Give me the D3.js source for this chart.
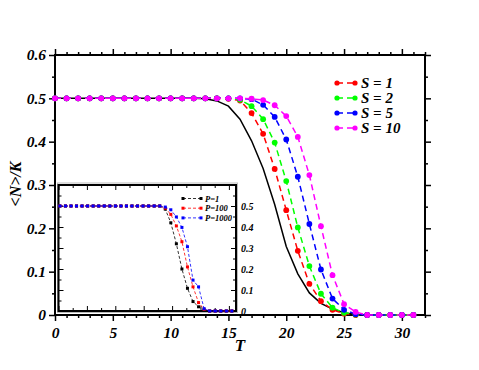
<!DOCTYPE html>
<html>
<head>
<meta charset="utf-8">
<script src="https://cdn.jsdelivr.net/npm/d3@7"></script>
<style>
  body { margin: 0; background: #fff; }
  svg text { font-family: "Liberation Serif", "Times New Roman", serif; font-weight: bold; font-style: italic; }
  .axis path, .axis line { stroke: #000; }
</style>
</head>
<body>
<div id="chart"></div>
<script>
// main plot data: T = 0..31
var T = [0,1,2,3,4,5,6,7,8,9,10,11,12,13,14,15,16,17,18,19,20,21,22,23,24,25,26,27,28,29,30,31];
var curveBlack = [0.5,0.5,0.5,0.5,0.5,0.5,0.5,0.5,0.5,0.5,0.5,0.5,0.5,0.499,0.494,0.482,0.452,0.402,0.338,0.255,0.158,0.095,0.051,0.027,0.014,0.005,0.001,0,0,0,0,0];
var s1  = [0.5,0.5,0.5,0.5,0.5,0.5,0.5,0.5,0.5,0.5,0.5,0.5,0.5,0.5,0.5,0.499,0.495,0.466,0.418,0.337,0.242,0.148,0.072,0.032,0.012,0.003,0,0,0,0,0,0];
var s2  = [0.5,0.5,0.5,0.5,0.5,0.5,0.5,0.5,0.5,0.5,0.5,0.5,0.5,0.5,0.5,0.5,0.497,0.482,0.452,0.398,0.309,0.202,0.113,0.049,0.017,0.005,0.001,0,0,0,0,0];
var s5  = [0.5,0.5,0.5,0.5,0.5,0.5,0.5,0.5,0.5,0.5,0.5,0.5,0.5,0.5,0.5,0.5,0.5,0.498,0.485,0.457,0.405,0.319,0.21,0.105,0.038,0.012,0.002,0,0,0,0,0];
var s10 = [0.5,0.5,0.5,0.5,0.5,0.5,0.5,0.5,0.5,0.5,0.5,0.5,0.5,0.5,0.5,0.5,0.5,0.499,0.496,0.484,0.459,0.411,0.323,0.205,0.092,0.025,0.007,0,0,0,0,0];
var seriesNames = ["S = 1", "S = 2", "S = 5", "S = 10"];
var seriesColors = ["#ff0000", "#00ff00", "#0000ff", "#ff00ff"];

var xTicks = [0,5,10,15,20,25,30];
var yTicks = [0,0.1,0.2,0.3,0.4,0.5,0.6];

// inset data: marker index 0..31
var insetIdx = [0,1,2,3,4,5,6,7,8,9,10,11,12,13,14,15,16,17,18,19,20,21,22,23,24,25,26,27,28,29,30,31];
var p1    = [0.5,0.5,0.5,0.5,0.5,0.5,0.5,0.5,0.5,0.5,0.5,0.5,0.5,0.5,0.5,0.5,0.5,0.5,0.5,0.485,0.42,0.32,0.2,0.108,0.045,0.02,0.004,0,0,0,0,0];
var p100  = [0.5,0.5,0.5,0.5,0.5,0.5,0.5,0.5,0.5,0.5,0.5,0.5,0.5,0.5,0.5,0.5,0.5,0.5,0.5,0.49,0.46,0.405,0.33,0.21,0.115,0.04,0.008,0,0,0,0,0];
var p1000 = [0.5,0.5,0.5,0.5,0.5,0.5,0.5,0.5,0.5,0.5,0.5,0.5,0.5,0.5,0.5,0.5,0.5,0.5,0.5,0.495,0.482,0.448,0.398,0.306,0.147,0.115,0.011,0,0,0,0,0];
var insetNames = ["P=1", "P=100", "P=1000"];
var insetColors = ["#000000", "#ff0000", "#0000ff"];
var insetYTicks = [0,0.1,0.2,0.3,0.4,0.5];

var svg = d3.select('#chart').append('svg').attr('width', 479).attr('height', 370);

var x = d3.scaleLinear().domain([0, 32]).range([55, 425]);
var y = d3.scaleLinear().domain([0, 0.6]).range([315, 55]);

var fmt = function(d) { return d === 0 ? "0" : d.toFixed(1); };

function drawAxis(gen, tr, size, vals, labels) {
  var g = svg.append("g").attr("class", "axis").attr("transform", tr)
    .call(gen.tickValues(vals).tickSize(size).tickSizeOuter(0));
  g.select(".domain").remove();
  g.selectAll("line").attr("stroke-width", 1.5);
  if (!labels) g.selectAll("text").remove();
  return g;
}

var xMinor = d3.range(0, 33, 1).filter(function(d) { return d % 5 !== 0; });
var yMinor = [0.05,0.15,0.25,0.35,0.45,0.55];

// minor ticks
drawAxis(d3.axisBottom(x), "translate(0,315)", 3, xMinor, false);
drawAxis(d3.axisTop(x), "translate(0,55)", 3, xMinor, false);
drawAxis(d3.axisLeft(y), "translate(55,0)", 3, yMinor, false);
drawAxis(d3.axisRight(y), "translate(425,0)", 3, yMinor, false);
// major ticks
var gx = drawAxis(d3.axisBottom(x).tickFormat(d3.format("d")), "translate(0,315)", 6, xTicks, true);
gx.selectAll("text").attr("font-size", 15.5).attr("dy", "0.9em").attr("fill", "#000");
drawAxis(d3.axisTop(x), "translate(0,55)", 6, xTicks, false);
var gy = drawAxis(d3.axisLeft(y).tickFormat(fmt), "translate(55,0)", 6, yTicks, true);
gy.selectAll("text").attr("font-size", 15.5).attr("fill", "#000");
drawAxis(d3.axisRight(y), "translate(425,0)", 6, yTicks, false);

// frame
svg.append("rect").attr("x", 55).attr("y", 55).attr("width", 370).attr("height", 260)
  .attr("fill", "none").attr("stroke", "#000").attr("stroke-width", 2);

// axis titles
svg.append("text").attr("x", 240).attr("y", 351).attr("text-anchor", "middle")
  .attr("font-size", 17).text("T");
svg.append("text").attr("transform", "translate(21,184) rotate(-90)").attr("text-anchor", "middle")
  .attr("font-size", 16).text("<N>/K");

// black solid curve
var line = d3.line().x(function(d, i) { return x(T[i]); }).y(function(d) { return y(d); });
svg.append("path").datum(curveBlack).attr("d", line)
  .attr("fill", "none").attr("stroke", "#000").attr("stroke-width", 1.5);

[s1, s2, s5, s10].forEach(function(s, k) {
  svg.append("path").datum(s).attr("d", line)
    .attr("fill", "none").attr("stroke", seriesColors[k]).attr("stroke-width", 1.5)
    .attr("stroke-dasharray", "6,4");
  svg.append("g").selectAll("circle").data(s).enter().append("circle")
    .attr("cx", function(d, i) { return x(T[i]); })
    .attr("cy", function(d) { return y(d); })
    .attr("r", 2.9).attr("fill", seriesColors[k]);
});

// legend
seriesNames.forEach(function(name, k) {
  var ly = 83 + k * 15;
  svg.append("line").attr("x1", 337).attr("x2", 355).attr("y1", ly).attr("y2", ly)
    .attr("stroke", seriesColors[k]).attr("stroke-width", 1.5).attr("stroke-dasharray", "6,4");
  [337, 355].forEach(function(cx) {
    svg.append("circle").attr("cx", cx).attr("cy", ly).attr("r", 2.6).attr("fill", seriesColors[k]);
  });
  svg.append("text").attr("x", 361).attr("y", ly + 5).attr("font-size", 15).text(name);
});

// ---- inset ----
var ix = d3.scaleLinear().domain([0, 12.5]).range([58.5, 236]);
var ixd = d3.scaleLinear().domain([-0.25, 31.75]).range([58.5, 236]);
var iy = d3.scaleLinear().domain([0, 0.6]).range([311, 185]);

svg.append("rect").attr("x", 57.5).attr("y", 183).attr("width", 180).attr("height", 129.5)
  .attr("fill", "#fff").attr("stroke", "#bbb").attr("stroke-width", 1);

function insetAxis(gen, tr, size, vals, labels) {
  var g = svg.append("g").attr("class", "axis").attr("transform", tr)
    .call(gen.tickValues(vals).tickSize(size).tickSizeOuter(0));
  g.select(".domain").remove();
  g.selectAll("line").attr("stroke-width", 1);
  if (!labels) g.selectAll("text").remove();
  return g;
}
var ixMinor = d3.range(1, 13, 2);
var ixMajor = d3.range(0, 13, 2);
var iyMinor = [0.05,0.15,0.25,0.35,0.45,0.55];
insetAxis(d3.axisTop(ix), "translate(0,311)", 3, ixMinor, false);
insetAxis(d3.axisTop(ix), "translate(0,311)", 5, ixMajor, false);
insetAxis(d3.axisBottom(ix), "translate(0,185)", 3, ixMinor, false);
insetAxis(d3.axisBottom(ix), "translate(0,185)", 5, ixMajor, false);
insetAxis(d3.axisRight(iy), "translate(58.5,0)", 3, iyMinor, false);
insetAxis(d3.axisRight(iy), "translate(58.5,0)", 5, insetYTicks, false);
insetAxis(d3.axisLeft(iy), "translate(236,0)", 3, iyMinor, false);
var giy = insetAxis(d3.axisLeft(iy).tickFormat(fmt), "translate(236,0)", 5, insetYTicks, true);
giy.selectAll("text").attr("font-size", 10).attr("fill", "#000")
  .attr("text-anchor", "start").attr("x", 5);

svg.append("rect").attr("x", 58.5).attr("y", 185).attr("width", 177.5).attr("height", 126)
  .attr("fill", "none").attr("stroke", "#000").attr("stroke-width", 2);

var iline = d3.line().x(function(d, i) { return ixd(insetIdx[i]); }).y(function(d) { return iy(d); });
[p1, p100, p1000].forEach(function(s, k) {
  svg.append("path").datum(s).attr("d", iline)
    .attr("fill", "none").attr("stroke", insetColors[k]).attr("stroke-width", 0.8)
    .attr("stroke-dasharray", "3,2");
  svg.append("g").selectAll("rect").data(s).enter().append("rect")
    .attr("x", function(d, i) { return ixd(insetIdx[i]) - 1.5; })
    .attr("y", function(d) { return iy(d) - 1.5; })
    .attr("width", 3).attr("height", 3).attr("fill", insetColors[k]);
});

insetNames.forEach(function(name, k) {
  var ly = 198.5 + k * 9.7;
  svg.append("line").attr("x1", 183).attr("x2", 201).attr("y1", ly).attr("y2", ly)
    .attr("stroke", insetColors[k]).attr("stroke-width", 0.8).attr("stroke-dasharray", "3,2");
  [183, 201].forEach(function(cx) {
    svg.append("rect").attr("x", cx - 1.5).attr("y", ly - 1.5).attr("width", 3).attr("height", 3)
      .attr("fill", insetColors[k]);
  });
  svg.append("text").attr("x", 205).attr("y", ly + 3).attr("font-size", 8.5).text(name);
});
</script>
</body>
</html>
